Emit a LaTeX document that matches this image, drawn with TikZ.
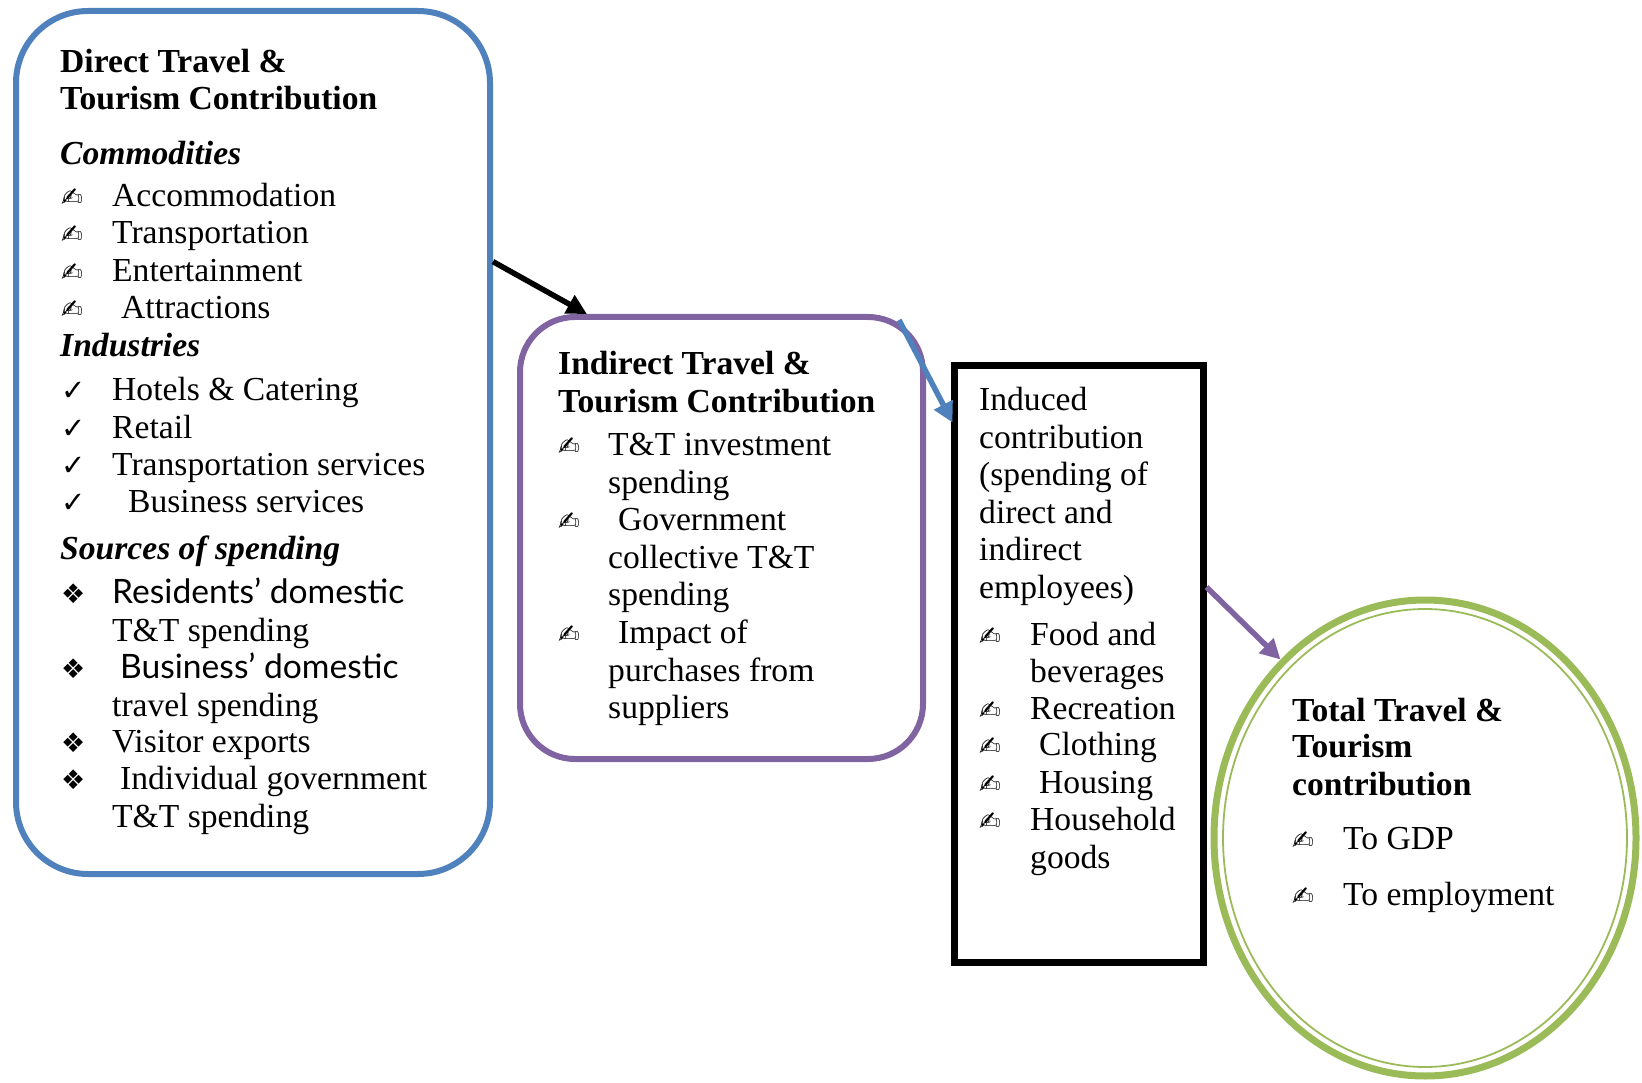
\documentclass[tikz,border=0pt]{standalone}
\usepackage{fontspec}
\setmainfont{Liberation Serif}
\newfontfamily\symfont{DejaVu Sans}
\newfontfamily\gillfont{Lato}
\usetikzlibrary{shapes.geometric,arrows.meta}

\definecolor{dirblue}{RGB}{79,129,189}
\definecolor{indpurple}{RGB}{128,100,162}
\definecolor{totgreen}{RGB}{155,187,89}

% bullet glyphs
\newcommand{\pen}{{\symfont\fontsize{26}{26}\selectfont ✍}}
\newcommand{\tick}{{\symfont\fontsize{29}{29}\selectfont ✓}}
\newcommand{\dia}{{\symfont\fontsize{27}{27}\selectfont ❖}}
\newcommand{\bul}[2]{\makebox[#1pt][l]{#2}}

\begin{document}
\begin{tikzpicture}[x=1pt,y=1pt,yscale=-1,
  txt/.style={anchor=base west,inner sep=0pt,font=\fontsize{33.6}{38}\selectfont},
  hd/.style={txt,font=\fontsize{33.6}{38}\selectfont\bfseries},
  sub/.style={txt,font=\fontsize{33.6}{38}\selectfont\bfseries\itshape},
  flow/.style={line width=5.5,-{Triangle[length=20,width=20]}}]
\useasboundingbox (0,0) rectangle (1642,1083);

%Shape: Rounded rectangle (direct)
\node [draw=dirblue,line width=6,rounded corners=72,minimum width=474,minimum height=863,inner sep=0] (direct) at (253,442.5) {};
%Shape: Rounded rectangle (indirect)
\node [draw=indpurple,line width=6,rounded corners=55,minimum width=403,minimum height=442,inner sep=0] (indirect) at (721.5,538) {};
%Shape: Rectangle (induced)
\node [draw=black,line width=7,minimum width=249,minimum height=596,inner sep=0] (induced) at (1078.5,664) {};
%Shape: Ellipse (total)
\node [draw=totgreen,line width=7,ellipse,minimum width=422,minimum height=476,inner sep=0] (total) at (1425,838) {};
\draw [totgreen,line width=1.8] (total.center) ellipse [x radius=202,y radius=229];

%Arrows
\draw [flow,black] (direct.37) -- (indirect.121);
\draw [flow,dirblue] ([shift={(-27,6)}]indirect.north east) -- ([shift={(2,60)}]induced.north west);
\draw [flow,indpurple] (induced.31) -- (total.129);

% Text Node: direct
\node [hd] (d1) at (60,73) {Direct Travel \&};
\node [hd] (d2) at (60,110) {Tourism Contribution};
\node [sub] (d3) at (60,165) {Commodities};
\node [txt] (d4) at (61,207) {\bul{51}{\pen}Accommodation};
\node [txt] (d5) at (61,244) {\bul{51}{\pen}Transportation};
\node [txt] (d6) at (61,282) {\bul{51}{\pen}Entertainment};
\node [txt] (d7) at (61,319) {\bul{60}{\pen}Attractions};
\node [sub] (d8) at (60,356) {Industries};
\node [txt] (d9) at (61,400) {\bul{51}{\tick}Hotels \& Catering};
\node [txt] (d10) at (61,438) {\bul{51}{\tick}Retail};
\node [txt] (d11) at (61,475) {\bul{51}{\tick}Transportation services};
\node [txt] (d12) at (61,512) {\bul{67}{\tick}Business services};
\node [sub] (d13) at (60,559) {Sources of spending};
\node [txt] (d14) at (61,603) {\bul{51}{\dia}{\gillfont Residents’ domestic}};
\node [txt] (d15) at (112,641) {T\&T spending};
\node [txt] (d16) at (61,678) {\bul{59}{\dia}{\gillfont Business’ domestic}};
\node [txt] (d17) at (112,716) {travel spending};
\node [txt] (d18) at (61,752) {\bul{51}{\dia}Visitor exports};
\node [txt] (d19) at (61,789) {\bul{59}{\dia}Individual government};
\node [txt] (d20) at (112,827) {T\&T spending};

% Text Node: indirect
\node [hd] (i1) at (558,375) {Indirect Travel \&};
\node [hd] (i2) at (558,413) {Tourism Contribution};
\node [txt] (i3) at (558,455) {\bul{50}{\pen}T\&T investment};
\node [txt] (i4) at (608,493) {spending};
\node [txt] (i5) at (558,530) {\bul{60}{\pen}Government};
\node [txt] (i6) at (608,568) {collective T\&T};
\node [txt] (i7) at (608,605) {spending};
\node [txt] (i8) at (558,643) {\bul{60}{\pen}Impact of};
\node [txt] (i9) at (608,681) {purchases from};
\node [txt] (i10) at (608,718) {suppliers};

% Text Node: induced
\node [txt] (n1) at (979,410) {Induced};
\node [txt] (n2) at (979,448) {contribution};
\node [txt] (n3) at (979,485) {(spending of};
\node [txt] (n4) at (979,523) {direct and};
\node [txt] (n5) at (979,560) {indirect};
\node [txt] (n6) at (979,598) {employees)};
\node [txt] (n7) at (979,645) {\bul{51}{\pen}Food and};
\node [txt] (n8) at (1030,682) {beverages};
\node [txt] (n9) at (979,719) {\bul{51}{\pen}Recreation};
\node [txt] (n10) at (979,755) {\bul{60}{\pen}Clothing};
\node [txt] (n11) at (979,793) {\bul{60}{\pen}Housing};
\node [txt] (n12) at (979,830) {\bul{51}{\pen}Household};
\node [txt] (n13) at (1030,868) {goods};

% Text Node: total
\node [hd] (t1) at (1292,721) {Total Travel \&};
\node [hd] (t2) at (1292,757) {Tourism};
\node [hd] (t3) at (1292,795) {contribution};
\node [txt] (t4) at (1292,849) {\bul{51}{\pen}To GDP};
\node [txt] (t5) at (1292,905) {\bul{51}{\pen}To employment};

\end{tikzpicture}
\end{document}
